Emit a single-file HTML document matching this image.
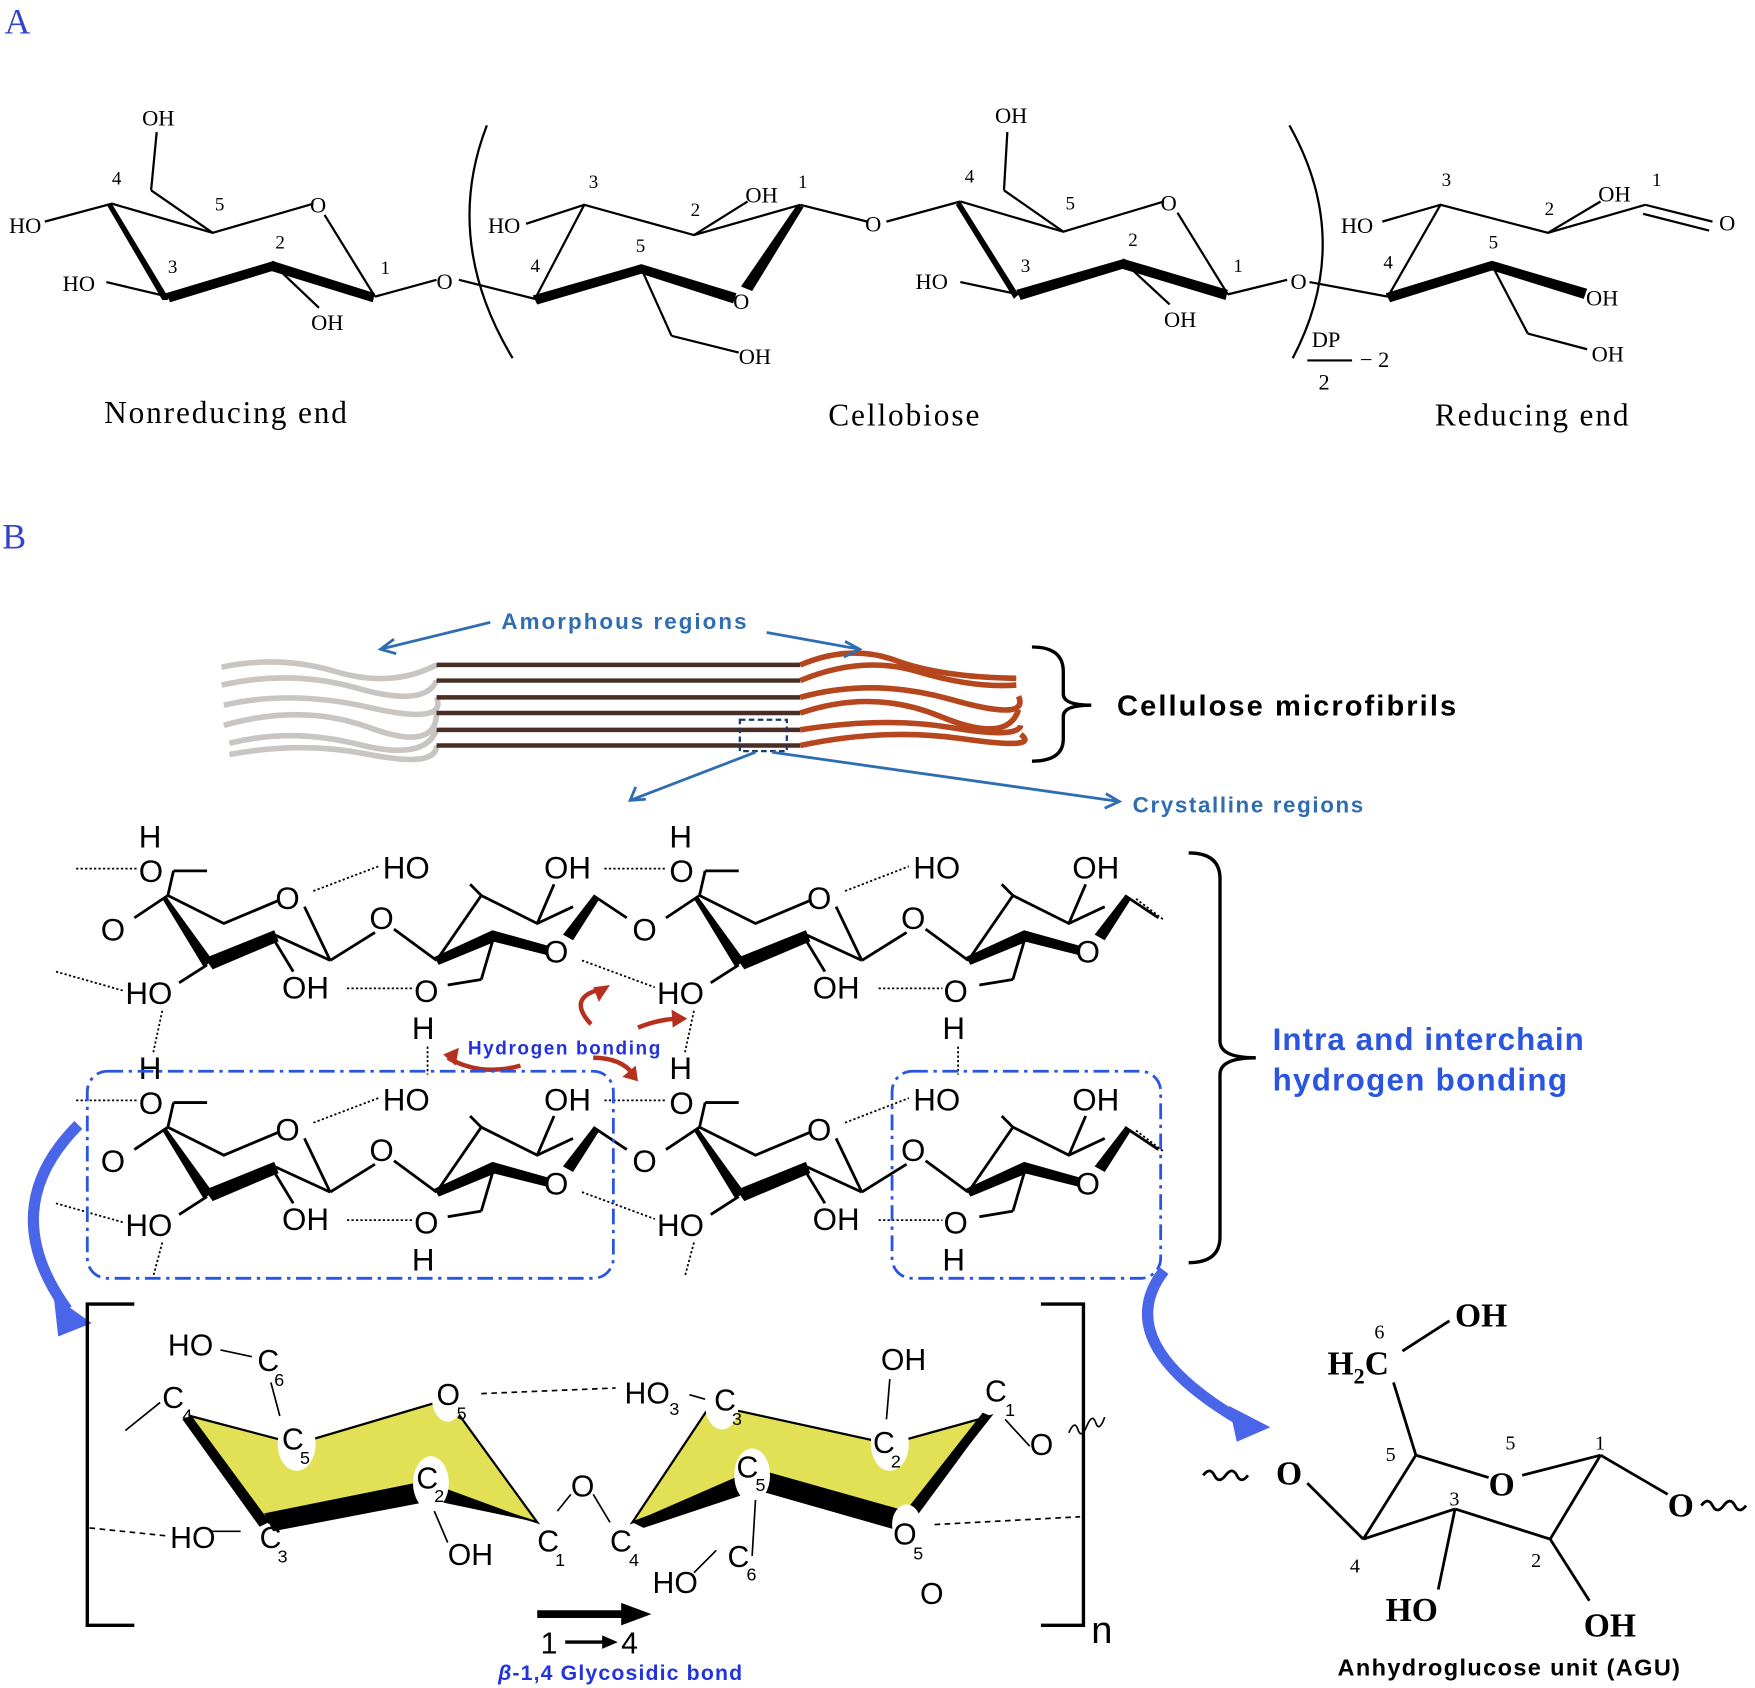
<!DOCTYPE html>
<html><head><meta charset="utf-8"><style>
html,body{margin:0;padding:0;background:#fff}
svg{display:block}
.s{font-family:"Liberation Serif",serif;fill:#000}
.a{font-family:"Liberation Sans",sans-serif;fill:#000}
</style></head><body>
<svg width="1755" height="1688" viewBox="0 0 1568 1508" preserveAspectRatio="none" xmlns="http://www.w3.org/2000/svg">
<!-- PART A -->
<text x="4" y="30" class="s" font-size="32" fill="#3344cc" style="fill:#3344cc">A</text>
<g stroke="#000" stroke-width="2" fill="none">
<polyline points="40,198 100,182 190,208 280,182"/>
<line x1="290" y1="192" x2="335" y2="265"/>
<line x1="335" y1="265" x2="390" y2="250"/>
<line x1="190" y1="208" x2="135" y2="170"/><line x1="135" y1="170" x2="140" y2="118"/>
<line x1="95" y1="252" x2="150" y2="265"/>
<line x1="245" y1="237" x2="285" y2="275"/>
<line x1="410" y1="250" x2="478" y2="267"/>
<polyline points="478,267 522,183 620,210 668,180"/>
<line x1="620" y1="210" x2="715" y2="183"/>
<line x1="715" y1="183" x2="775" y2="198"/>
<line x1="573" y1="240" x2="600" y2="300"/><line x1="600" y1="300" x2="660" y2="315"/>
<line x1="470" y1="200" x2="522" y2="183"/>
<line x1="792" y1="198" x2="858" y2="180"/>
<polyline points="858,180 950,207 1040,180"/>
<line x1="1052" y1="190" x2="1097" y2="263"/>
<line x1="1097" y1="263" x2="1150" y2="250"/>
<line x1="950" y1="207" x2="897" y2="170"/><line x1="897" y1="170" x2="900" y2="118"/>
<line x1="858" y1="252" x2="910" y2="263"/>
<line x1="1005" y1="235" x2="1045" y2="272"/>
<line x1="1170" y1="252" x2="1240" y2="265"/>
<polyline points="1240,265 1287,183 1383,208 1470,183"/>
<line x1="1235" y1="198" x2="1287" y2="183"/>
<line x1="1383" y1="208" x2="1430" y2="180"/>
<line x1="1470" y1="183" x2="1530" y2="198"/><line x1="1468" y1="191" x2="1527" y2="206"/>
<line x1="1333" y1="237" x2="1365" y2="298"/><line x1="1365" y1="298" x2="1418" y2="312"/>
<path d="M435,112 Q395,215 458,320"/>
<path d="M1152,112 Q1210,215 1155,320"/>
<line x1="1168" y1="322" x2="1208" y2="322"/>
</g>
<g fill="#000">
<polygon points="100,182 150,265 150,268 145,268 96,184"/>
<polygon points="148,262 245,233 247,241 152,270"/>
<polygon points="243,233 335,262 333,270 242,242"/>
<polygon points="476,264 573,236 575,244 480,272"/>
<polygon points="573,236 658,262 655,271 571,244"/>
<polygon points="712,183 718,185 672,260 662,256"/>
<polygon points="858,180 910,263 906,267 854,183"/>
<polygon points="908,259 1005,231 1007,239 912,268"/>
<polygon points="1003,231 1097,259 1095,268 1002,240"/>
<polygon points="1238,262 1333,233 1335,241 1242,270"/>
<polygon points="1333,233 1418,258 1415,267 1331,241"/>
</g>
<g class="s" font-size="20">
<text x="127" y="112">OH</text><text x="8" y="208">HO</text><text x="56" y="260">HO</text><text x="278" y="295">OH</text>
<text x="277" y="190">O</text><text x="390" y="258">O</text>
<text x="100" y="165" font-size="17">4</text><text x="192" y="188" font-size="17">5</text><text x="246" y="222" font-size="17">2</text><text x="150" y="244" font-size="17">3</text><text x="340" y="245" font-size="17">1</text>
<text x="436" y="208">HO</text><text x="666" y="181">OH</text><text x="655" y="276">O</text><text x="660" y="325">OH</text><text x="773" y="207">O</text>
<text x="526" y="168" font-size="17">3</text><text x="617" y="193" font-size="17">2</text><text x="713" y="168" font-size="17">1</text><text x="474" y="243" font-size="17">4</text><text x="568" y="225" font-size="17">5</text>
<text x="889" y="110">OH</text><text x="818" y="258">HO</text><text x="1040" y="292">OH</text><text x="1037" y="188">O</text><text x="1153" y="258">O</text>
<text x="862" y="163" font-size="17">4</text><text x="952" y="187" font-size="17">5</text><text x="1008" y="220" font-size="17">2</text><text x="912" y="243" font-size="17">3</text><text x="1102" y="243" font-size="17">1</text>
<text x="1198" y="208">HO</text><text x="1428" y="180">OH</text><text x="1536" y="206">O</text><text x="1417" y="273">OH</text><text x="1422" y="323">OH</text>
<text x="1288" y="166" font-size="17">3</text><text x="1380" y="192" font-size="17">2</text><text x="1476" y="166" font-size="17">1</text><text x="1236" y="240" font-size="17">4</text><text x="1330" y="222" font-size="17">5</text>
<text x="1172" y="310">DP</text><text x="1178" y="348">2</text><text x="1215" y="328">− 2</text>
</g>
<g class="s" font-size="28">
<text x="93" y="378" textLength="217" lengthAdjust="spacing">Nonreducing end</text><text x="740" y="380" textLength="135" lengthAdjust="spacing">Cellobiose</text><text x="1282" y="380" textLength="173" lengthAdjust="spacing">Reducing end</text>
</g>
<!-- PART B -->
<text x="2" y="490" class="s" font-size="32" style="fill:#3344cc">B</text>
<g fill="none" stroke-width="5">
<g stroke="#c8c5c2">
<path d="M198,596 Q250,585 300,600 T390,594"/><path d="M198,612 Q260,598 320,615 T390,608"/>
<path d="M200,630 Q260,616 330,632 T390,623"/><path d="M200,648 Q270,628 330,650 T390,637"/>
<path d="M205,664 Q260,650 320,665 T390,652"/><path d="M205,674 Q270,662 330,674 T390,666"/>
</g>
<g stroke="#4a2d25" stroke-width="4">
<line x1="390" y1="594" x2="715" y2="594"/><line x1="390" y1="608" x2="715" y2="608"/><line x1="390" y1="623" x2="715" y2="623"/>
<line x1="390" y1="637" x2="715" y2="637"/><line x1="390" y1="652" x2="715" y2="652"/><line x1="390" y1="666" x2="715" y2="666"/>
</g>
<g stroke="#b5461d">
<path d="M715,594 Q760,575 800,590 T908,606"/><path d="M715,608 Q770,585 820,600 T908,612"/><path d="M715,623 Q780,605 850,625 T910,622"/>
<path d="M715,637 Q780,615 840,640 T910,634"/><path d="M715,652 Q790,640 850,650 T912,648"/><path d="M715,666 Q790,650 860,660 T912,656"/>
</g>
</g>
<rect x="661" y="643" width="42" height="28" fill="none" stroke="#1b3a6a" stroke-width="2" stroke-dasharray="5,3"/>
<path d="M922,578 Q950,578 950,600 L950,620 Q950,630 975,630 Q950,630 950,640 L950,660 Q950,680 922,680" fill="none" stroke="#000" stroke-width="3"/>
<text x="998" y="639" class="a" font-size="26" font-weight="bold" textLength="303" lengthAdjust="spacing">Cellulose  microfibrils</text>
<g stroke="#2f6db3" stroke-width="2.5" fill="none">
<line x1="438" y1="556" x2="340" y2="580"/><polyline points="352,571 340,580 354,584"/>
<line x1="685" y1="565" x2="768" y2="580"/><polyline points="755,573 768,580 754,587"/>
<line x1="675" y1="672" x2="563" y2="715"/><polyline points="568,703 563,715 577,714"/>
<line x1="690" y1="672" x2="1000" y2="716"/><polyline points="988,709 1000,716 987,722"/>
</g>
<text x="448" y="562" class="a" font-size="20" font-weight="bold" style="fill:#2f6db3" textLength="219" lengthAdjust="spacing">Amorphous  regions</text>
<text x="1012" y="726" class="a" font-size="20" font-weight="bold" style="fill:#2f6db3" textLength="206" lengthAdjust="spacing">Crystalline  regions</text>
<defs>
<g id="ra">
<polyline points="150,800 200,825 250,804" fill="none" stroke="#000" stroke-width="2.5"/>
<line x1="272" y1="810" x2="295" y2="858" stroke="#000" stroke-width="2.5"/>
<polygon points="148,800 190,858 182,864 145,803" fill="#000"/>
<polygon points="183,856 245,831 249,841 190,866" fill="#000"/>
<line x1="245" y1="835" x2="295" y2="858" stroke="#000" stroke-width="2.5"/>
<line x1="150" y1="800" x2="120" y2="820" stroke="#000" stroke-width="2.5"/>
<line x1="150" y1="800" x2="155" y2="778" stroke="#000" stroke-width="2.5"/><line x1="155" y1="778" x2="185" y2="778" stroke="#000" stroke-width="2.5"/>
<line x1="185" y1="862" x2="160" y2="878" stroke="#000" stroke-width="2.5"/>
<line x1="245" y1="840" x2="262" y2="868" stroke="#000" stroke-width="2.5"/>
<line x1="295" y1="858" x2="335" y2="833" stroke="#000" stroke-width="2.5"/>
<text x="90" y="840" class="a" font-size="28">O</text>
<text x="246" y="812" class="a" font-size="28">O</text>
<text x="330" y="830" class="a" font-size="28">O</text>
</g>
<g id="rb">
<line x1="352" y1="830" x2="390" y2="858" stroke="#000" stroke-width="2.5"/>
<polyline points="390,858 430,800 480,825 512,810" fill="none" stroke="#000" stroke-width="2.5"/>
<polygon points="388,855 440,831 443,841 392,862" fill="#000"/>
<polygon points="440,831 490,845 488,853 440,841" fill="#000"/>
<polygon points="530,800 535,804 512,840 503,835" fill="#000"/>
<line x1="530" y1="800" x2="560" y2="820" stroke="#000" stroke-width="2.5"/>
<line x1="430" y1="800" x2="420" y2="790" stroke="#000" stroke-width="2.5"/>
<line x1="480" y1="825" x2="495" y2="790" stroke="#000" stroke-width="2.5"/>
<line x1="440" y1="841" x2="430" y2="875" stroke="#000" stroke-width="2.5"/><line x1="430" y1="875" x2="400" y2="880" stroke="#000" stroke-width="2.5"/>
<text x="486" y="860" class="a" font-size="28">O</text>
</g>
</defs>
<use href="#ra"/><use href="#rb"/><use href="#ra" x="475"/><use href="#rb" x="475"/>
<use href="#ra" y="207"/><use href="#rb" y="207"/><use href="#ra" x="475" y="207"/><use href="#rb" x="475" y="207"/>
<g class="a" font-size="28">
<text x="124" y="757">H</text><text x="124" y="788">O</text><text x="342" y="785">HO</text><text x="486" y="785">OH</text><text x="598" y="757">H</text><text x="598" y="788">O</text><text x="816" y="785">HO</text><text x="958" y="785">OH</text>
<text x="112" y="897">HO</text><text x="252" y="892">OH</text><text x="370" y="895">O</text><text x="368" y="928">H</text><text x="587" y="897">HO</text><text x="726" y="892">OH</text><text x="843" y="895">O</text><text x="842" y="928">H</text>
<text x="124" y="964">H</text><text x="124" y="995">O</text><text x="342" y="992">HO</text><text x="486" y="992">OH</text><text x="598" y="964">H</text><text x="598" y="995">O</text><text x="816" y="992">HO</text><text x="958" y="992">OH</text>
<text x="112" y="1104">HO</text><text x="252" y="1099">OH</text><text x="370" y="1102">O</text><text x="368" y="1135">H</text><text x="587" y="1104">HO</text><text x="726" y="1099">OH</text><text x="843" y="1102">O</text><text x="842" y="1135">H</text>
</g>
<g stroke="#000" stroke-width="1.6" stroke-dasharray="2,2" fill="none">
<line x1="68" y1="776" x2="122" y2="776"/><line x1="280" y1="796" x2="338" y2="774"/><line x1="540" y1="776" x2="596" y2="776"/><line x1="755" y1="796" x2="812" y2="774"/><line x1="1015" y1="803" x2="1040" y2="822"/>
<line x1="50" y1="868" x2="110" y2="885"/><line x1="310" y1="883" x2="368" y2="883"/><line x1="520" y1="858" x2="585" y2="882"/><line x1="785" y1="883" x2="842" y2="883"/>
<line x1="145" y1="903" x2="137" y2="940"/><line x1="382" y1="935" x2="382" y2="960"/><line x1="620" y1="903" x2="612" y2="940"/><line x1="856" y1="935" x2="856" y2="960"/>
<line x1="68" y1="983" x2="122" y2="983"/><line x1="280" y1="1003" x2="338" y2="981"/><line x1="540" y1="983" x2="596" y2="983"/><line x1="755" y1="1003" x2="812" y2="981"/><line x1="1015" y1="1010" x2="1040" y2="1029"/>
<line x1="50" y1="1075" x2="110" y2="1092"/><line x1="310" y1="1090" x2="368" y2="1090"/><line x1="520" y1="1065" x2="585" y2="1089"/><line x1="785" y1="1090" x2="842" y2="1090"/>
<line x1="145" y1="1110" x2="137" y2="1140"/><line x1="620" y1="1110" x2="612" y2="1140"/>
</g>
<g stroke="#b5301d" stroke-width="4" fill="none">
<path d="M465,952 Q430,962 400,945"/><path d="M528,915 Q505,890 540,883"/><path d="M570,918 Q590,910 608,910"/><path d="M530,945 Q555,945 566,960"/>
</g>
<g fill="#b5301d"><polygon points="396,942 410,936 407,952"/><polygon points="545,880 535,895 530,882"/><polygon points="614,910 600,902 601,918"/><polygon points="570,966 556,962 568,952"/></g>
<text x="418" y="942" class="a" font-size="17" font-weight="bold" style="fill:#2233dd" textLength="172" lengthAdjust="spacing">Hydrogen bonding</text>
<g fill="none" stroke="#2a55e0" stroke-width="2.5" stroke-dasharray="14,5,3,5">
<rect x="78" y="957" width="470" height="185" rx="18"/>
<rect x="797" y="957" width="240" height="185" rx="18"/>
</g>
<path d="M1062,762 Q1090,762 1090,785 L1090,930 Q1090,945 1122,945 Q1090,945 1090,960 L1090,1105 Q1090,1128 1062,1128" fill="none" stroke="#000" stroke-width="3"/>
<text x="1137" y="938" class="a" font-size="28" font-weight="bold" style="fill:#2a55e0" textLength="278" lengthAdjust="spacing">Intra and interchain</text>
<text x="1137" y="974" class="a" font-size="28" font-weight="bold" style="fill:#2a55e0" textLength="263" lengthAdjust="spacing">hydrogen  bonding</text>
<path d="M70,1005 Q-5,1080 60,1170" fill="none" stroke="#4a66e8" stroke-width="10"/>
<polygon points="48,1158 82,1182 52,1194" fill="#4a66e8"/>
<path d="M1040,1135 Q990,1200 1110,1270" fill="none" stroke="#4a66e8" stroke-width="10"/>
<polygon points="1098,1256 1135,1275 1105,1288" fill="#4a66e8"/>
<g stroke="#000" stroke-width="3" fill="none">
<polyline points="120,1165 78,1165 78,1452 120,1452"/>
<polyline points="930,1165 968,1165 968,1452 930,1452"/>
</g>
<polygon points="170,1265 265,1290 400,1250 480,1360 385,1330 240,1360" fill="#e2e055" stroke="#000" stroke-width="2"/>
<polygon points="565,1360 635,1255 795,1290 885,1265 810,1360 675,1320" fill="#e2e055" stroke="#000" stroke-width="2"/>
<g fill="#000">
<polygon points="170,1265 240,1360 232,1364 163,1268"/><polygon points="236,1352 385,1322 390,1340 244,1368"/><polygon points="385,1325 480,1360 385,1340"/>
<polygon points="565,1360 675,1312 680,1330 575,1365"/><polygon points="675,1312 810,1350 805,1368 672,1330"/><polygon points="885,1265 815,1360 805,1355 878,1262"/>
</g>
<g fill="#fff"><ellipse cx="265" cy="1290" rx="17" ry="24"/><ellipse cx="400" cy="1250" rx="14" ry="20"/><ellipse cx="385" cy="1325" rx="16" ry="24"/><ellipse cx="795" cy="1290" rx="17" ry="24"/><ellipse cx="672" cy="1318" rx="16" ry="24"/><ellipse cx="645" cy="1255" rx="15" ry="22"/><ellipse cx="810" cy="1362" rx="13" ry="18"/></g>
<g stroke="#000" stroke-width="1.5" fill="none">
<line x1="112" y1="1278" x2="143" y2="1253"/><line x1="197" y1="1206" x2="225" y2="1212"/><line x1="242" y1="1235" x2="250" y2="1265"/>
<line x1="616" y1="1246" x2="630" y2="1250"/><line x1="795" y1="1232" x2="792" y2="1268"/>
<line x1="898" y1="1268" x2="920" y2="1292"/><line x1="187" y1="1368" x2="215" y2="1368"/><line x1="388" y1="1350" x2="400" y2="1378"/>
<line x1="498" y1="1350" x2="510" y2="1335"/><line x1="530" y1="1335" x2="545" y2="1360"/><line x1="675" y1="1340" x2="672" y2="1390"/><line x1="620" y1="1405" x2="640" y2="1385"/>
<path d="M955,1280 q5,-12 8,-3 t8,-3 t8,-3 t8,-5"/>
</g>
<g stroke="#000" stroke-width="1.5" stroke-dasharray="5,4"><line x1="80" y1="1365" x2="148" y2="1372"/><line x1="835" y1="1362" x2="965" y2="1355"/><line x1="430" y1="1245" x2="550" y2="1240"/></g>
<g class="a" font-size="27">
<text x="150" y="1211">HO</text><text x="230" y="1225">C</text><text x="245" y="1238" font-size="16">6</text>
<text x="145" y="1258">C</text><text x="163" y="1270" font-size="16">4</text>
<text x="252" y="1295">C</text><text x="268" y="1308" font-size="16">5</text>
<text x="390" y="1255">O</text><text x="408" y="1268" font-size="16">5</text>
<text x="372" y="1330">C</text><text x="388" y="1342" font-size="16">2</text>
<text x="152" y="1383">HO</text><text x="232" y="1383">C</text><text x="248" y="1396" font-size="16">3</text>
<text x="400" y="1398">OH</text><text x="480" y="1386">C</text><text x="496" y="1399" font-size="16">1</text>
<text x="510" y="1337">O</text><text x="545" y="1386">C</text><text x="562" y="1399" font-size="16">4</text>
<text x="558" y="1254">HO</text><text x="598" y="1264" font-size="16">3</text><text x="638" y="1260">C</text><text x="654" y="1273" font-size="16">3</text>
<text x="787" y="1224">OH</text><text x="780" y="1298">C</text><text x="796" y="1311" font-size="16">2</text>
<text x="880" y="1252">C</text><text x="898" y="1265" font-size="16">1</text><text x="920" y="1300">O</text>
<text x="658" y="1320">C</text><text x="675" y="1332" font-size="16">5</text>
<text x="798" y="1380">O</text><text x="816" y="1393" font-size="16">5</text>
<text x="583" y="1423">HO</text><text x="650" y="1400">C</text><text x="667" y="1412" font-size="16">6</text>
<text x="822" y="1433">O</text>
<text x="975" y="1468" font-size="34">n</text>
<text x="483" y="1477">1</text><text x="555" y="1477">4</text>
</g>
<line x1="480" y1="1442" x2="560" y2="1442" stroke="#000" stroke-width="7"/><polygon points="555,1432 582,1442 555,1452" fill="#000"/>
<line x1="505" y1="1467" x2="540" y2="1467" stroke="#000" stroke-width="3"/><polygon points="538,1461 552,1467 538,1473" fill="#000"/>
<text x="445" y="1501" class="a" font-size="19" font-weight="bold" style="fill:#2233dd" textLength="218" lengthAdjust="spacing"><tspan font-style="italic">β</tspan>-1,4 Glycosidic  bond</text>
<g stroke="#000" stroke-width="2.5" fill="none">
<line x1="1168" y1="1325" x2="1218" y2="1375"/><polyline points="1218,1375 1265,1300 1330,1320"/>
<line x1="1218" y1="1375" x2="1300" y2="1348"/><line x1="1300" y1="1348" x2="1385" y2="1375"/>
<line x1="1360" y1="1318" x2="1430" y2="1300"/><line x1="1430" y1="1300" x2="1385" y2="1375"/>
<line x1="1430" y1="1300" x2="1490" y2="1335"/><line x1="1265" y1="1300" x2="1245" y2="1235"/><line x1="1253" y1="1207" x2="1295" y2="1180"/>
<line x1="1300" y1="1348" x2="1285" y2="1420"/><line x1="1385" y1="1375" x2="1420" y2="1430"/>
<path d="M1075,1318 q6,-8 10,0 t10,0 t10,0 t10,0"/><path d="M1520,1345 q6,-8 10,0 t10,0 t10,0 t10,0"/>
</g>
<g class="s" font-size="30" font-weight="bold">
<text x="1300" y="1185">OH</text><text x="1186" y="1228">H<tspan font-size="20" dy="8">2</tspan><tspan dy="-8">C</tspan></text>
<text x="1140" y="1326">O</text><text x="1330" y="1336">O</text><text x="1490" y="1355">O</text>
<text x="1238" y="1448">HO</text><text x="1415" y="1462">OH</text>
</g>
<g class="s" font-size="18">
<text x="1228" y="1196">6</text><text x="1238" y="1305">5</text><text x="1345" y="1295">5</text><text x="1425" y="1295">1</text><text x="1295" y="1345">3</text><text x="1206" y="1405">4</text><text x="1368" y="1400">2</text>
</g>
<text x="1195" y="1497" class="a" font-size="21" font-weight="bold" textLength="306" lengthAdjust="spacing">Anhydroglucose  unit (AGU)</text>
</svg>
</body></html>
